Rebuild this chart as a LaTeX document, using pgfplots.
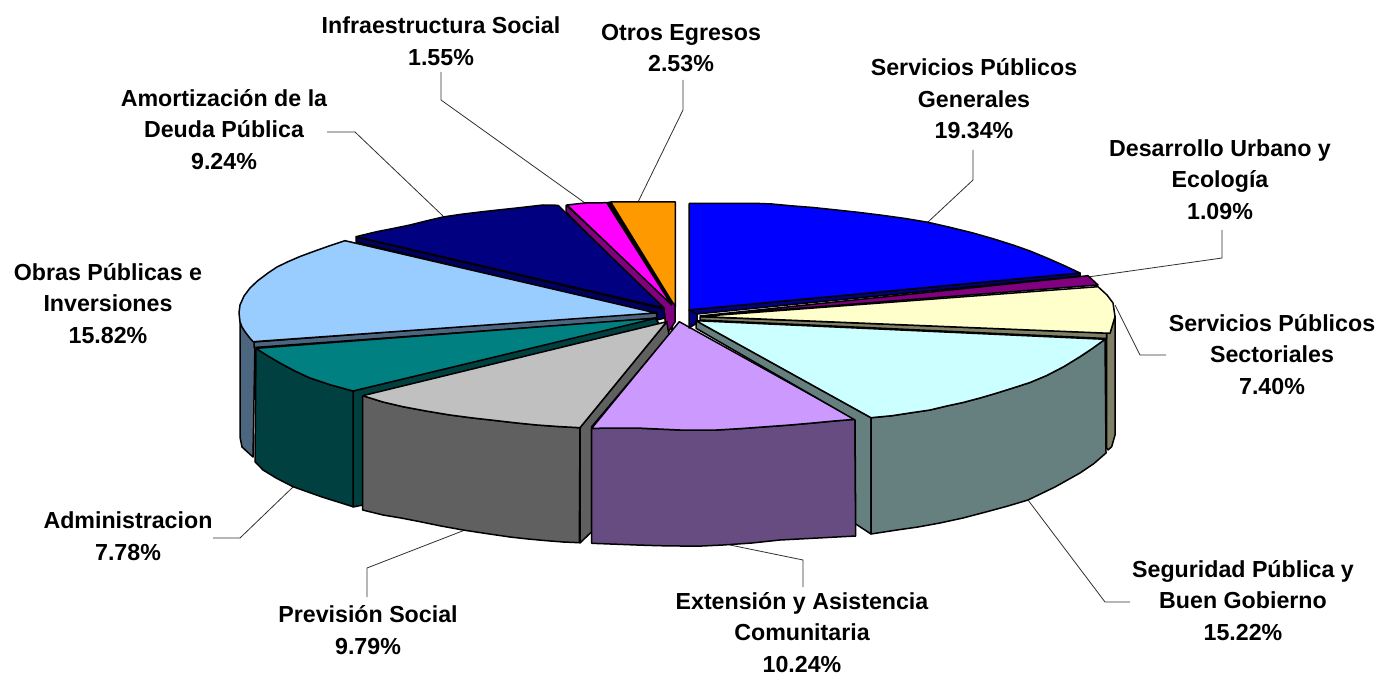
\documentclass[border=0pt]{standalone}
\usepackage{pgfplots}
\pgfplotsset{compat=1.18}
\usepackage{fontspec}
\setmainfont{Liberation Sans}
\definecolor{cblue}{HTML}{0000FF}
\definecolor{cblueS}{HTML}{000080}
\definecolor{cpur}{HTML}{800080}
\definecolor{ccream}{HTML}{FFFFCC}
\definecolor{ccreamS}{HTML}{808066}
\definecolor{ccyan}{HTML}{CCFFFF}
\definecolor{ccyanS}{HTML}{668080}
\definecolor{clil}{HTML}{CC99FF}
\definecolor{clilS}{HTML}{664C80}
\definecolor{cgrey}{HTML}{C0C0C0}
\definecolor{cgreyS}{HTML}{606060}
\definecolor{cteal}{HTML}{008080}
\definecolor{ctealS}{HTML}{004040}
\definecolor{csky}{HTML}{99CCFF}
\definecolor{cskyS}{HTML}{4D6680}
\definecolor{cnavy}{HTML}{000080}
\definecolor{cnavyS}{HTML}{000060}
\definecolor{cmag}{HTML}{FF00FF}
\definecolor{corg}{HTML}{FF9900}
\definecolor{lead}{HTML}{303030}
\tikzset{
 sl/.style={draw=black,line width=1.5pt,line join=round,fill=#1},
 ll/.style={draw=lead,line width=0.8pt,line join=miter},
 lb/.style={font=\fontsize{23.2}{31.6}\selectfont\bfseries,align=center,inner sep=0pt,anchor=center}
}
\begin{document}
\begin{tikzpicture}
\useasboundingbox (0,0) rectangle (1379pt,676pt);
\begin{axis}[at={(0,0)},anchor=south west,scale only axis,width=1379pt,height=676pt,
 xmin=0,xmax=1379,ymin=0,ymax=676,y dir=reverse,hide axis,clip=false]
% leader lines
\addplot[ll] coordinates {(327,132)(355,132)(443,216)};
\addplot[ll] coordinates {(441,72)(441,100)(585,203)};
\addplot[ll] coordinates {(683,80)(683,110)(638,202)};
\addplot[ll] coordinates {(973,150)(973,180)(928,222)};
\addplot[ll] coordinates {(1222,230)(1222,258)(1088,277)};
\addplot[ll] coordinates {(1115,305)(1140,355)(1166,355)};
\addplot[ll] coordinates {(1028,500)(1105,602)(1130,602)};
\addplot[ll] coordinates {(730,545)(803,560)(803,587)};
\addplot[ll] coordinates {(465,530)(367,568)(367,597)};
\addplot[ll] coordinates {(293,487)(240,538)(213,538)};
% backing of the centre
\addplot[sl=black] coordinates {(606,203)(611,202)(675,307)(672,330)(666,312)(606,203)};
% orange
\addplot[sl=corg] coordinates {(610.7,202)(640,202)(675.3,202)(675.3,307)(610.7,202)};
% magenta
\addplot[sl=cpur] coordinates {(566,205)(566,212)(664,312)(667,334)(675,322)(675,305)(566,205)};
\addplot[sl=cmag] coordinates {(567,205)(585,203)(606.7,202.7)(671.7,305)(567,205)};
% navy
\addplot[sl=cnavyS] coordinates {(356,237)(356,242)(657,315)(657,320)(665,318)(664,309)(356,237)};
\addplot[sl=cnavy] coordinates {(558,205.3)(543,205)(530,206.5)(516.7,208)(498,210)(480,212)(461,214.3)(443,217)(426,221)(410,225)(393,228.5)(376.7,231.7)(356,236.7)(664,308)(558,205.3)};
% sky
\addplot[sl=cskyS] coordinates {(240,305)(240,437)(242,447)(253,457)(255,342)(240,305)};
\addplot[sl=cskyS] coordinates {(254,342)(254,347.5)(656.7,318.5)(656.7,312)(254,342)};
\addplot[sl=csky] coordinates {(345,240.7)(329,246)(313,251.7)(300,256.5)(288,261.7)(277,267)(268,273)(258,280.5)(250,288)(244,296)(240,305)(239,313)(240,321.7)(242,327)(245,331.7)(249,337)(253,341.7)(656,313)(345,240.7)};
% teal
\addplot[sl=ctealS] coordinates {(353,391)(655,318)(660,325)(363,396)(363,505)(353,507)(353,391)};
\addplot[sl=ctealS] coordinates {(256,348.3)(268,356)(280,363)(295,371)(310,378)(331,385)(353,391)(353,506.7)(322,497)(293,486.7)(277,478.5)(263,470)(255,461.7)(256,348.3)};
\addplot[sl=cteal] coordinates {(256,348.3)(268,356)(280,363)(295,371)(310,378)(331,385)(353,391)(657,318)(256,348.3)};
% grey
\addplot[sl=cgreyS] coordinates {(580,427.7)(666.7,321.7)(669,335)(591.7,426.7)(591.7,531.7)(580,543)(580,427.7)};
\addplot[sl=cgreyS] coordinates {(362.7,395.7)(383,402)(403,406.7)(426,411)(450,415)(473,418)(497,420.7)(517,423)(537,425)(558,426.5)(580,427.7)(579.3,542.7)(563,542)(546.7,540.7)(528,539)(510,537)(486,533.5)(463,530)(441,526)(420,521.7)(401,518)(383,515)(362.7,510)(362.7,395.7)};
\addplot[sl=cgrey] coordinates {(362.7,395.7)(383,402)(403,406.7)(426,411)(450,415)(473,418)(497,420.7)(517,423)(537,425)(558,426.5)(580,427.7)(666.7,321.7)(362.7,395.7)};
% lilac
\addplot[sl=clilS] coordinates {(591.7,428.3)(636.7,428)(658,429)(680,430)(698,430)(716.7,430)(742,428.5)(766.7,426.7)(790,425)(813,423)(834,421)(855,419.3)(855.7,536)(818,538)(780,540)(752,543)(723,545)(702,546)(680,546)(658,545.7)(636.7,545)(591.7,543.3)(591.7,428.3)};
\addplot[sl=clil] coordinates {(591.7,428.3)(636.7,428)(658,429)(680,430)(698,430)(716.7,430)(742,428.5)(766.7,426.7)(790,425)(813,423)(834,421)(855,419.3)(679.3,321.7)(591.7,428.3)};
% blue
\addplot[sl=cblueS] coordinates {(689,310)(697,310)(697,323)(689,328)(689,310)};
\addplot[sl=cblueS] coordinates {(689,310)(1080,273)(1080,276)(697,314)(689,310)};
\addplot[sl=cblue] coordinates {(689,203.3)(755,203.3)(772,204)(790,205.7)(813,207.5)(836.7,210)(858,212.3)(880,215)(904,218.3)(928,222.3)(950,227.3)(973,233)(993,238.7)(1013,245)(1030,251)(1047,258)(1064,265.5)(1080,273)(689,310)(689,203.3)};
% dark purple
\addplot[sl=cpur] coordinates {(1088,275.7)(1098,285)(700,316)(1088,275.7)};
% cream
\addplot[sl=ccreamS] coordinates {(1110,333)(1115,316)(1115,435)(1111.7,446.7)(1108,450)(1106.7,448)(1106.7,333)(1110,333)};
\addplot[sl=ccreamS] coordinates {(700,316.7)(700,320)(1106.7,338.5)(1106.7,333)(700,316.7)};
\addplot[sl=ccream] coordinates {(700,316.5)(1098,286.7)(1107,295)(1113,303)(1115,316.7)(1110,333.3)(700,316.5)};
% cyan
\addplot[sl=ccyanS] coordinates {(696,320.7)(696,328.3)(855,420)(855.7,524)(871,534)(871,417.7)(696,320.7)};
\addplot[sl=ccyanS] coordinates {(871,417.7)(892,415.7)(913,412.5)(930,410)(946.7,406)(963,402.5)(980,398)(997,393)(1013,388)(1030,382.5)(1046.7,375.5)(1064,366.5)(1080,356.7)(1093,348)(1105,339.3)(1106,453)(1094,463.5)(1080,473)(1055,487)(1028,500)(1008,506)(987,511.7)(963,518)(940,523)(918,527)(897,530)(871,534)(871,417.7)};
\addplot[sl=ccyan] coordinates {(696,320.7)(871,417.7)(892,415.7)(913,412.5)(930,410)(946.7,406)(963,402.5)(980,398)(997,393)(1013,388)(1030,382.5)(1046.7,375.5)(1064,366.5)(1080,356.7)(1093,348)(1105,339.3)(696,320.7)};
% labels
\node[lb] at (axis cs:441,41) {Infraestructura Social\\1.55\%};
\node[lb] at (axis cs:681,48) {Otros Egresos\\2.53\%};
\node[lb] at (axis cs:974,99) {Servicios Públicos\\Generales\\19.34\%};
\node[lb] at (axis cs:1220,179.5) {Desarrollo Urbano y\\Ecología\\1.09\%};
\node[lb] at (axis cs:1272,354.5) {Servicios Públicos\\Sectoriales\\7.40\%};
\node[lb] at (axis cs:1243,600.5) {Seguridad Pública y\\Buen Gobierno\\15.22\%};
\node[lb] at (axis cs:802,632.5) {Extensión y Asistencia\\Comunitaria\\10.24\%};
\node[lb] at (axis cs:368,630) {Previsión Social\\9.79\%};
\node[lb] at (axis cs:128,536) {Administracion\\7.78\%};
\node[lb] at (axis cs:108,303.5) {Obras Públicas e\\Inversiones\\15.82\%};
\node[lb] at (axis cs:224,129.5) {Amortización de la\\Deuda Pública\\9.24\%};
\end{axis}
\end{tikzpicture}
\end{document}
